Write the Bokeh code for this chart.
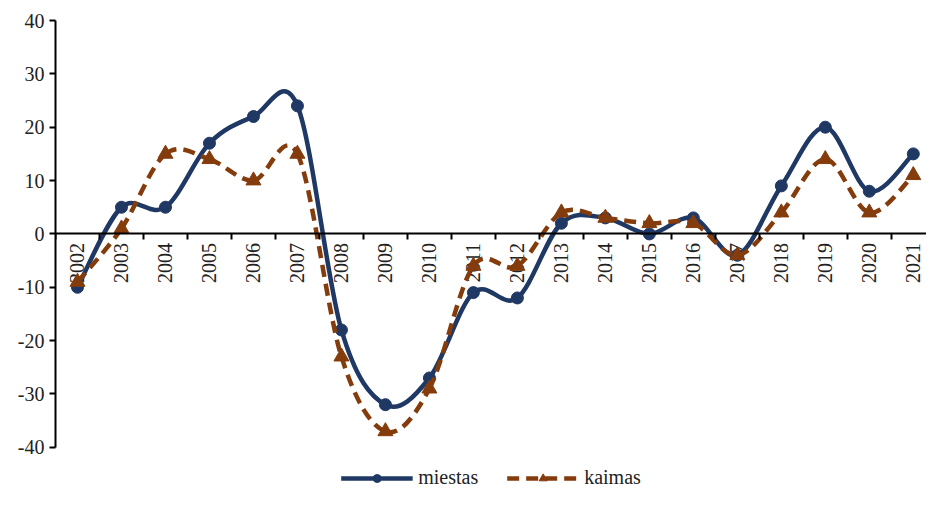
import numpy as np
from bokeh.plotting import figure
from bokeh.models import (ColumnDataSource, FixedTicker, LinearAxis, Range1d,
                          Legend, LegendItem)
from bokeh.core.properties import value
from bokeh.embed import file_html
from bokeh.resources import INLINE

years = ["2002", "2003", "2004", "2005", "2006", "2007", "2008", "2009", "2010", "2011",
         "2012", "2013", "2014", "2015", "2016", "2017", "2018", "2019", "2020", "2021"]
miestas = [-10, 5, 5, 17, 22, 24, -18, -32, -27, -11, -12, 2, 3, 0, 3, -4, 9, 20, 8, 15]
kaimas = [-9, 1, 15, 14, 10, 15, -23, -37, -29, -6, -6, 4, 3, 2, 2, -4, 4, 14, 4, 11]
y_ticks = [-40, -30, -20, -10, 0, 10, 20, 30, 40]

FONT = "Times New Roman"
NAVY = "#1F3864"
BROWN = "#843C0C"

p = figure(width=926, height=489, output_backend="svg", toolbar_location=None,
           x_range=Range1d(-0.5, 19.3), y_range=Range1d(-47.9, 40),
           min_border_left=55, min_border_right=0, min_border_top=20, min_border_bottom=0,
           x_axis_location=None, y_axis_location=None)
p.grid.visible = False
p.outline_line_color = None
p.background_fill_color = "white"
p.border_fill_color = "white"

# left axis
yax = LinearAxis(bounds=(-40, 40), ticker=FixedTicker(ticks=y_ticks))
yax.major_label_overrides = {t: str(t) for t in y_ticks}
yax.axis_line_width = 2
yax.axis_line_color = "black"
yax.major_tick_out = 6
yax.major_tick_in = 0
yax.major_tick_line_width = 2
yax.minor_tick_line_color = None
yax.major_label_text_font = FONT
yax.major_label_text_font_size = "20px"
yax.major_label_text_color = "#222222"
yax.major_label_standoff = 5
p.add_layout(yax, "left")

# horizontal category axis at y = 0 (tick marks between categories, pointing down)
xax = LinearAxis(ticker=FixedTicker(ticks=[],
                                    minor_ticks=[i + 0.5 for i in range(-1, len(years))]),
                 fixed_location=0)
xax.axis_line_width = 2
xax.axis_line_color = "black"
xax.major_tick_line_color = None
xax.minor_tick_out = 0
xax.minor_tick_in = 6
xax.minor_tick_line_width = 2
xax.minor_tick_line_color = "black"
p.add_layout(xax, "above")

xs = np.arange(len(years), dtype=float)
src_lbl = ColumnDataSource(dict(x=xs, y=[0] * len(years), t=years))
p.text(x="x", y="y", text="t", source=src_lbl, angle=np.pi / 2,
       text_align="right", text_baseline="middle", y_offset=9,
       text_font=value(FONT), text_font_size="20px", text_color="#222222")


def bezier_source(vals):
    y = np.asarray(vals, dtype=float)
    n = len(y)
    x0, y0, x1, y1, cx0, cy0, cx1, cy1 = [], [], [], [], [], [], [], []
    for i in range(n - 1):
        p0 = (xs[i - 1], y[i - 1]) if i > 0 else (xs[i], y[i])
        p1 = (xs[i], y[i])
        p2 = (xs[i + 1], y[i + 1])
        p3 = (xs[i + 2], y[i + 2]) if i + 2 < n else (xs[i + 1], y[i + 1])
        x0.append(p1[0]); y0.append(p1[1])
        x1.append(p2[0]); y1.append(p2[1])
        cx0.append(p1[0] + (p2[0] - p0[0]) / 6); cy0.append(p1[1] + (p2[1] - p0[1]) / 6)
        cx1.append(p2[0] - (p3[0] - p1[0]) / 6); cy1.append(p2[1] - (p3[1] - p1[1]) / 6)
    return ColumnDataSource(dict(x0=x0, y0=y0, x1=x1, y1=y1,
                                 cx0=cx0, cy0=cy0, cx1=cx1, cy1=cy1))


bm = p.bezier(x0="x0", y0="y0", x1="x1", y1="y1", cx0="cx0", cy0="cy0",
              cx1="cx1", cy1="cy1", source=bezier_source(miestas),
              line_color=NAVY, line_width=4.5)
sm = p.scatter(xs, miestas, marker="circle", size=12, fill_color=NAVY, line_color=NAVY)

bk = p.bezier(x0="x0", y0="y0", x1="x1", y1="y1", cx0="cx0", cy0="cy0",
              cx1="cx1", cy1="cy1", source=bezier_source(kaimas),
              line_color=BROWN, line_width=4.5, line_dash="12 7")
sk = p.scatter(xs, kaimas, marker="triangle", size=15, fill_color=BROWN, line_color=BROWN)

legend = Legend(items=[LegendItem(label="miestas", renderers=[bm, sm], index=0),
                       LegendItem(label="kaimas", renderers=[bk, sk], index=0)],
                location="bottom_center", orientation="horizontal",
                glyph_width=72, glyph_height=20, label_text_font=FONT,
                label_text_font_size="20px", label_text_color="#222222",
                border_line_color=None, background_fill_alpha=0,
                spacing=28, padding=0, margin=0, label_standoff=6)
p.add_layout(legend, "center")

open("out.html", "w").write(file_html(p, INLINE))
